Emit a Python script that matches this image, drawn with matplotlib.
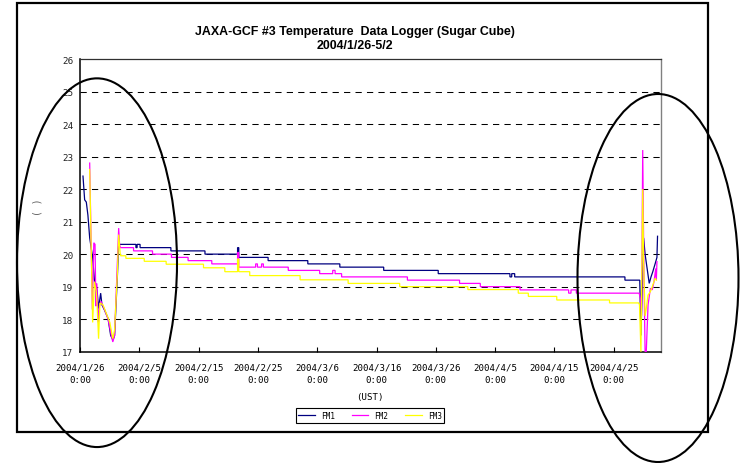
import datetime as dt
import matplotlib
matplotlib.use("Agg")
import matplotlib.pyplot as plt
from matplotlib.patches import Ellipse, Rectangle
from matplotlib.lines import Line2D

plt.rcParams['font.family'] = ['Liberation Sans', 'DejaVu Sans']

W, H = 743, 464
START = dt.datetime(2004, 1, 26)

# Elapsed days since 2004/1/26 0:00 and temperature (deg C) for each logger.
# Each series: a launch transient, a stepwise cruise record, a return transient.
fm1_head_days = [0.47, 0.75, 1.03, 1.3, 1.6, 1.85, 2.1, 2.4, 2.7, 2.86, 3.1, 3.45,
                 3.67, 4.1, 4.69, 5.14, 5.53, 5.8, 6.26, 6.49]
fm1_head_vals = [22.4, 21.67, 21.6, 21.2, 20.5, 20.2, 19.9, 19.2, 19.05, 18.85, 18.33, 18.8,
                 18.44, 18.28, 18.03, 17.5, 17.36, 17.5, 19.26, 20.28]
fm1_step_edges = [6.7, 9.4, 9.6, 10.1, 15.3, 21.05, 26.55, 26.75, 31.7, 38.4, 43.8,
                  51.2, 60.4, 72.5, 72.8, 73.3, 91.9, 94.4]
fm1_step_vals = [20.3, 20.2, 20.3, 20.2, 20.1, 20.0, 20.2, 19.9, 19.8, 19.7, 19.6,
                 19.5, 19.4, 19.3, 19.4, 19.3, 19.2]
fm1_tail_days = [94.6, 95.05, 95.3, 96.0, 96.3, 96.6, 97.1, 97.3, 97.4]
fm1_tail_vals = [17.5, 20.5, 20.0, 19.1, 19.3, 19.46, 19.77, 19.9, 20.55]

fm2_head_days = [1.6, 2.05, 2.3, 2.5, 2.65, 2.8, 3.05, 3.25, 3.5, 4.1, 4.7, 5.25,
                 5.5, 5.8, 6.1, 6.49, 6.65]
fm2_head_vals = [22.8, 18.3, 20.35, 20.3, 18.4, 19.1, 17.9, 18.4, 18.55, 18.3, 18.0, 17.5,
                 17.3, 17.5, 18.95, 20.8, 20.28]
fm2_step_edges = [6.8, 9.0, 12.2, 15.4, 18.2, 22.2, 26.55, 26.75, 29.6, 29.9, 30.6, 30.9,
                  35.1, 40.4, 42.6, 43.0, 44.1, 55.2, 64.0, 67.5, 74.2, 82.4, 82.8, 83.7, 94.3]
fm2_step_vals = [20.2, 20.1, 20.0, 19.9, 19.8, 19.7, 20.05, 19.6, 19.7, 19.6, 19.7, 19.6,
                 19.5, 19.4, 19.5, 19.4, 19.3, 19.2, 19.1, 19.0, 18.9, 18.8, 18.9, 18.8]
fm2_tail_days = [94.5, 94.7, 94.9, 95.1, 95.3, 95.5, 95.8, 96.2, 96.5, 96.8, 97.1, 97.2, 97.3]
fm2_tail_vals = [18.64, 18.1, 23.2, 19.5, 17.0, 17.0, 18.44, 18.95, 18.9, 19.15, 19.56, 19.2, 19.77]

fm3_head_days = [1.6, 2.1, 2.4, 2.7, 2.86, 3.1, 3.33, 3.85, 4.4, 5.0, 5.5, 5.8,
                 6.26, 6.49, 6.75]
fm3_head_vals = [22.6, 17.9, 19.15, 18.85, 18.4, 17.4, 18.5, 18.44, 18.18, 17.9, 17.4, 17.67,
                 19.36, 20.6, 20.0]
fm3_step_edges = [6.85, 7.7, 10.8, 14.5, 20.8, 24.4, 26.55, 26.75, 28.6, 37.1, 45.2,
                  53.9, 65.4, 73.9, 75.6, 80.4, 89.3, 94.2]
fm3_step_vals = [19.95, 19.87, 19.78, 19.69, 19.58, 19.46, 19.85, 19.46, 19.34, 19.21,
                 19.1, 19.0, 18.91, 18.8, 18.7, 18.59, 18.5]
fm3_tail_days = [94.35, 94.6, 94.9, 95.05, 95.3, 95.5, 95.8, 96.2, 96.6, 97.0, 97.2]
fm3_tail_vals = [18.45, 17.0, 22.0, 19.77, 18.1, 18.33, 18.74, 18.85, 19.05, 19.26, 19.2]

series_names = ["FM1", "FM2", "FM3"]
series_colors = ["#000080", "#FF00FF", "#FFFF00"]

tick_days = [0, 10, 20, 30, 40, 50, 60, 70, 80, 90]
tick_labels = ["2004/1/26\n0:00", "2004/2/5\n0:00", "2004/2/15\n0:00", "2004/2/25\n0:00",
               "2004/3/6\n0:00", "2004/3/16\n0:00", "2004/3/26\n0:00", "2004/4/5\n0:00",
               "2004/4/15\n0:00", "2004/4/25\n0:00"]
y_ticks = [17, 18, 19, 20, 21, 22, 23, 24, 25, 26]
grid_levels = [18, 19, 20, 21, 22, 23, 24, 25]


def to_time(days):
    return [START + dt.timedelta(days=d) for d in days]


def build(head_d, head_v, edges, levels, tail_d, tail_v):
    d, v = list(head_d), list(head_v)
    for i, lev in enumerate(levels):
        d += [edges[i], edges[i + 1]]
        v += [lev, lev]
    d += list(tail_d)
    v += list(tail_v)
    return to_time(d), v


series = [
    build(fm1_head_days, fm1_head_vals, fm1_step_edges, fm1_step_vals, fm1_tail_days, fm1_tail_vals),
    build(fm2_head_days, fm2_head_vals, fm2_step_edges, fm2_step_vals, fm2_tail_days, fm2_tail_vals),
    build(fm3_head_days, fm3_head_vals, fm3_step_edges, fm3_step_vals, fm3_tail_days, fm3_tail_vals),
]

fig = plt.figure(figsize=(W / 100, H / 100), dpi=100)
fig.patch.set_facecolor("white")


def fx(px):
    return px / W


def fy(py):
    return 1 - py / H


ax = fig.add_axes([fx(80.2), fy(352.7), fx(660.5) - fx(80.2), fy(60) - fy(352.7)])

for lev in grid_levels:
    ax.axhline(lev, color="black", lw=0.75, ls=(0, (6, 5)), zorder=1)

handles = []
for (t, v), name, col in zip(series, series_names, series_colors):
    ax.plot(t, v, color=col, lw=0.9, zorder=3, solid_joinstyle="miter")
    handles.append(Line2D([], [], color=col, lw=0.9))

ax.set_ylim(17, 26)
ax.set_yticks(y_ticks)
ax.set_xlim(START, START + dt.timedelta(days=97.9))
ax.set_xticks(to_time(tick_days))
ax.set_xticklabels(tick_labels)

mono = "DejaVu Sans Mono"
for lbl in ax.get_xticklabels():
    lbl.set_fontfamily(mono)
    lbl.set_fontsize(6.6)
    lbl.set_linespacing(1.5)
for lbl in ax.get_yticklabels():
    lbl.set_fontfamily(mono)
    lbl.set_fontsize(6.7)
    lbl.set_color("#222222")

ax.tick_params(axis="x", direction="in", length=3.5, width=0.8, pad=8, colors="black")
ax.tick_params(axis="y", length=0, pad=5)

for side in ("left", "bottom"):
    ax.spines[side].set_color("black")
    ax.spines[side].set_linewidth(1.1)
ax.spines["top"].set_color("#303030")
ax.spines["top"].set_linewidth(0.9)
ax.spines["right"].set_color("#808080")
ax.spines["right"].set_linewidth(1.0)

fig.text(fx(355), fy(39), "JAXA-GCF #3 Temperature  Data Logger (Sugar Cube)\n2004/1/26-5/2",
         ha="center", va="center", fontsize=8.9, fontweight="bold", linespacing=1.15)
fig.text(fx(38), fy(207), "( )", rotation=90, ha="center", va="center",
         fontsize=7, color="#606060", family=mono)
fig.text(fx(370), fy(398), "(UST)", ha="center", va="center", fontsize=6.6, family=mono)

leg = fig.legend(handles, series_names, loc="center", bbox_to_anchor=(fx(370), fy(416.7)),
                 ncol=3, frameon=True, fancybox=False, edgecolor="black", framealpha=1,
                 prop={"family": mono, "size": 5.6}, handlelength=2.1, handletextpad=0.8,
                 columnspacing=2.2, borderpad=0.35, borderaxespad=0)
leg.get_frame().set_linewidth(0.8)

fig.add_artist(Rectangle((fx(16.7), fy(432.7)), fx(708.3) - fx(16.7), fy(4) - fy(432.7),
                         transform=fig.transFigure, fill=False, lw=1.6, ec="black", zorder=5))

for cx, cy, w, h in [(97, 263.7, 160, 368.7), (658, 279, 161, 368)]:
    fig.add_artist(Ellipse((fx(cx), fy(cy)), w / W, h / H, transform=fig.transFigure,
                           fill=False, lw=1.5, ec="black", zorder=10))

fig.savefig("out.png", dpi=100, facecolor="white")
